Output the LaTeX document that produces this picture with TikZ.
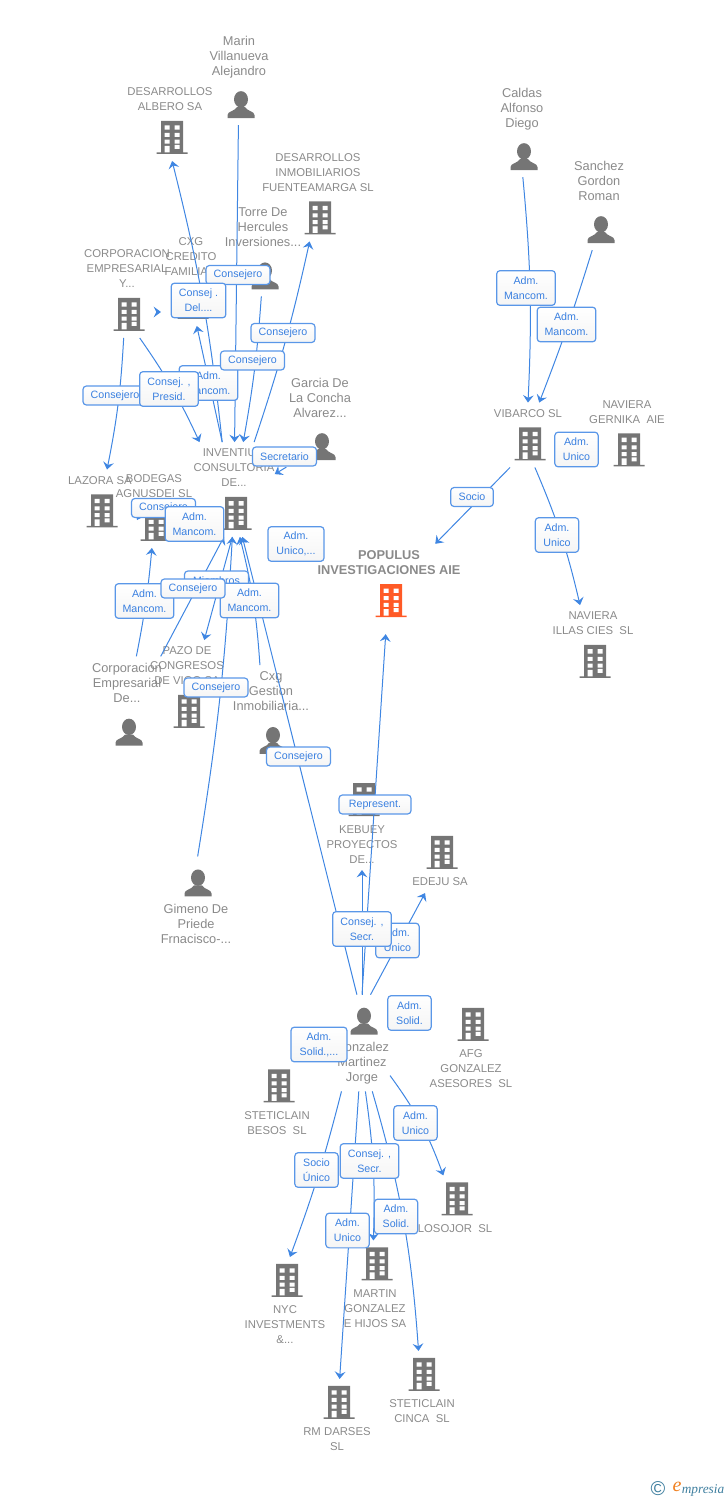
\documentclass[tikz,border=0pt]{standalone}
\usepackage{fontspec}
\setmainfont{Liberation Sans}
\newfontfamily\logofont{Liberation Serif}
\usetikzlibrary{arrows.meta}
\definecolor{iconGray}{HTML}{757575}
\definecolor{nameGray}{HTML}{8A8A8A}
\definecolor{linkBlue}{HTML}{3F86E2}
\definecolor{tagLine}{HTML}{5A97E8}
\definecolor{tagText}{HTML}{3A80E0}
\definecolor{mainRed}{HTML}{FF5A26}
\definecolor{logoBlue}{HTML}{3F7F9F}
\definecolor{logoOrange}{HTML}{F08020}
% icons sit on the baseline of their line
\newcommand{\firmicon}[1][iconGray]{\tikz[baseline=0pt,x=0.75pt,y=0.75pt]{
    \path[use as bounding box] (-19.5,0) rectangle (15.5,33);
    \fill[#1] (-15.5,0) rectangle (15.5,1.5) (-11,1) rectangle (11,33);
    \fill[white] (-7.5,24.3) rectangle (-2.5,28.7) (2.5,24.3) rectangle (7.5,28.7)
        (-7.5,17) rectangle (-2.5,21) (2.5,17) rectangle (7.5,21)
        (-7.5,10.3) rectangle (-2.5,14.3) (2.5,10.3) rectangle (7.5,14.3)
        (-7.5,1.5) rectangle (-2.5,8) (2.5,5) rectangle (7.5,9);
}}
\newcommand{\manicon}{\tikz[baseline=0pt,x=0.75pt,y=0.75pt]{
    \path[use as bounding box] (-19.5,0) rectangle (15.5,33);
    \fill[iconGray] (0,18.8) ellipse [x radius=7, y radius=8.2];
    \fill[iconGray] (-13.5,0) -- (-13.5,3) .. controls (-13.5,7) and (-6,7) .. (-4,11)
        -- (4,11) .. controls (6,7) and (13.5,7) .. (13.5,3) -- (13.5,0) -- cycle;
}}
\begin{document}
\begin{tikzpicture}[
    x=0.75pt, y=-0.75pt,
    entity/.style={align=center, inner sep=0pt, outer sep=5.25pt, text=nameGray,
        font=\fontsize{8.5pt}{11.25pt}\selectfont,
        execute at begin node={\lineskiplimit=-100pt\relax}},
    personentity/.style={entity, font=\fontsize{9.6pt}{11.25pt}\selectfont},
    mainentity/.style={entity, font=\fontsize{9.6pt}{10.8pt}\selectfont\bfseries},
    link/.style={draw=linkBlue, line width=0.75pt, -{Stealth[length=5.5pt,width=8pt,inset=2pt]}},
    tag/.style={draw=tagLine, line width=0.9pt, rounded corners=2.5pt, top color=white,
        bottom color=black!4, text=tagText, inner xsep=0pt, inner ysep=0pt, align=center,
        font=\fontsize{8pt}{11.25pt}\selectfont},
    tagone/.style={tag, minimum width=48pt, minimum height=14.2pt},
    tagtwo/.style={tag, minimum width=#1, minimum height=26pt},
    tagtwo/.default=44pt,
]
\useasboundingbox (0,0) rectangle (728,1500);

% people and firms, text above the icon
\node[personentity] (marin) at (239,77) {Marin\\Villanueva\\Alejandro\\[21pt]\manicon};
\node[entity] (albero) at (170,121) {DESARROLLOS\\ALBERO SA\\[21pt]\firmicon};
\node[entity] (fuente) at (318,194) {DESARROLLOS\\INMOBILIARIOS\\FUENTEAMARGA SL\\[21pt]\firmicon};
\node[personentity] (torre) at (263,248.5) {Torre De\\Hercules\\Inversiones...\\[21pt]\manicon};
\node[entity] (cxg) at (191,278.5) {CXG\\CREDITO\\FAMILIA...\\[21pt]\firmicon};
\node[entity] (corp) at (127,290.5) {CORPORACION\\EMPRESARIAL\\Y...\\[21pt]\firmicon};
\node[personentity] (caldas) at (522,129) {Caldas\\Alfonso\\Diego\\[21pt]\manicon};
\node[personentity] (sanchez) at (599,202) {Sanchez\\Gordon\\Roman\\[21pt]\manicon};
\node[personentity] (garcia) at (320,419) {Garcia De\\La Concha\\Alvarez...\\[21pt]\manicon};
\node[entity] (vibarco) at (528,435) {VIBARCO SL\\[21pt]\firmicon};
\node[entity] (gernika) at (627,433.5) {NAVIERA\\GERNIKA~~AIE\\[21pt]\firmicon};
\node[entity] (inventium) at (234,489.5) {INVENTIUM\\CONSULTORIA\\DE...\\[21pt]\firmicon};
\node[entity] (lazora) at (100,502) {LAZORA SA\\[21pt]\firmicon};
\node[entity] (bodegas) at (154,508) {BODEGAS\\AGNUSDEI SL\\[21pt]\firmicon};
\node[entity] (illas) at (593,645) {NAVIERA\\ILLAS CIES~~SL\\[21pt]\firmicon};
\node[mainentity] (populus) at (389,584) {POPULUS\\INVESTIGACIONES AIE\\[21.5pt]\firmicon[mainRed]};
\node[entity] (pazo) at (187,687.5) {PAZO DE\\CONGRESOS\\DE VIGO SA\\[21pt]\firmicon};
\node[personentity] (corpemp) at (127,704.5) {Corporacion\\Empresarial\\De...\\[21pt]\manicon};
\node[personentity] (cxggest) at (271,713) {Cxg\\Gestion\\Inmobiliaria...\\[21pt]\manicon};

% icon above the text
\node[entity] (kebuey) at (362,823) {\firmicon\\[1.5pt]KEBUEY\\PROYECTOS\\DE...};
\node[entity] (edeju) at (440,861) {\firmicon\\[1.5pt]EDEJU SA};
\node[personentity] (gimeno) at (196,903.5) {\manicon\\[1.5pt]Gimeno De\\Priede\\Frnacisco-...};
\node[personentity] (gonzalez) at (362,1043) {\manicon\\[1.5pt]Gonzalez\\Martinez\\Jorge};
\node[entity] (afg) at (471,1048) {\firmicon\\[1.5pt]AFG\\GONZALEZ\\ASESORES~~SL};
\node[entity] (besos) at (277,1102) {\firmicon\\[1.5pt]STETICLAIN\\BESOS~~SL};
\node[entity] (losojor) at (455,1207.5) {\firmicon\\[1.5pt]LOSOJOR~~SL};
\node[entity] (martin) at (375,1287.5) {\firmicon\\[1.5pt]MARTIN\\GONZALEZ\\E HIJOS SA};
\node[entity] (nyc) at (285,1304) {\firmicon\\[1.5pt]NYC\\INVESTMENTS\\\&...};
\node[entity] (darses) at (337,1418.5) {\firmicon\\[1.5pt]RM DARSES\\SL};
\node[entity] (cinca) at (422,1390.5) {\firmicon\\[1.5pt]STETICLAIN\\CINCA~~SL};

% two arrow heads whose lines stay hidden
\coordinate (corptail) at (157,312);
\coordinate (corphead) at (161,312);
\coordinate (bodegastail) at (141,512);
\coordinate (bodegashead) at (137,520);
\draw[link] (corptail) -- (corphead);
\draw[link] (bodegastail) -- (bodegashead);

\draw[link] (marin) -- (inventium);
\draw[link] (inventium.104) to[bend right=4] (albero.-87);
\draw[link] (inventium.104) -- (cxg.-83);
\draw[link] (inventium.67) to[bend right=3] (fuente.-100);
\draw[link] (torre.-92) to[bend left=3] (inventium.79);
\draw[link] (corp.-75) to[bend left=5] (inventium.126);
\draw[link] (corp.-94) to[bend left=4] (lazora);
\draw[link] (garcia.-125) -- ([xshift=-5pt]inventium.18);
\draw[link] (corpemp.79) to[bend right=3] (bodegas.-93);
\draw[link] (corpemp.55) -- (inventium.-102);
\draw[link] (inventium.-92) -- (pazo.70);
\draw[link] (gimeno.88) to[bend right=3] (inventium.-92);
\draw[link] (cxggest.103) to[bend right=5] (inventium.-83);
\draw[link] (gonzalez.96) -- (inventium.-80);
\draw[link, shorten >=7.5pt] (gonzalez.90) -- (populus);
\draw[link] (gonzalez.90) -- (kebuey);
\draw[link] (gonzalez.80) -- (edeju.-115);
\draw[link] (gonzalez.-113) to[bend left=3] (nyc.84);
\draw[link] (gonzalez) -- (darses);
\draw[link] (gonzalez.-86) to[bend left=5] (martin.92);
\draw[link] (gonzalez.-78) to[bend left=6] (cinca.95);
\draw[link] ([shift={(-6,-8)}]gonzalez.-50) to[bend left=8] (losojor.110);
\draw[link] (caldas.-89) to[bend left=4] (vibarco.90);
\draw[link] (sanchez.-98) to[bend left=2] (vibarco.71);
\draw[link] (vibarco.-119) -- (populus.41);
\draw[link] (vibarco.-78) to[bend left=5] (illas.108);

\node[tagone] (t1) at (238,275) {Consejero};
\node[tagtwo=41pt] (t2) at (198.5,300.5) {Consej .\\Del....};
\node[tagone] (t3) at (283,333) {Consejero};
\node[tagtwo] (t4) at (208.5,383) {Adm.\\Mancom.};
\node[tagone] (t5) at (252.5,360.5) {Consejero};
\node[tagone] (t6) at (115,395.5) {Consejero};
\node[tagtwo] (t7) at (169,389) {Consej. ,\\Presid.};
\node[tagone] (t8) at (284.5,456.5) {Secretario};
\node[tagone] (t9) at (163.5,508) {Consejero};
\node[tagtwo] (t10) at (194.5,524) {Adm.\\Mancom.};
\node[tagtwo=42pt] (t11) at (296,544) {Adm.\\Unico,...};
\node[tagone] (t12) at (216.5,580.5) {Miembros};
\node[tagtwo] (t13) at (144.5,601) {Adm.\\Mancom.};
\node[tagtwo] (t14) at (249.5,600.5) {Adm.\\Mancom.};
\node[tagone] (t15) at (193,588.5) {Consejero};
\node[tagone] (t16) at (216,687.5) {Consejero};
\node[tagone] (t17) at (298.5,756.5) {Consejero};
\node[tagone, minimum width=54pt] (t18) at (375,804.5) {Represent.};
\node[tagtwo=32.5pt] (t19) at (397.5,940.5) {Adm.\\Unico};
\node[tagtwo] (t20) at (362,929) {Consej. ,\\Secr.};
\node[tagtwo=32.5pt] (t21) at (409.5,1013) {Adm.\\Solid.};
\node[tagtwo=42pt] (t22) at (319,1044.5) {Adm.\\Solid.,...};
\node[tagtwo=32.5pt] (t23) at (415.5,1123) {Adm.\\Unico};
\node[tagtwo=32.5pt] (t24) at (316.5,1170) {Socio\\Único};
\node[tagtwo] (t25) at (369.5,1161) {Consej. ,\\Secr.};
\node[tagtwo=32.5pt] (t26) at (396,1216.5) {Adm.\\Solid.};
\node[tagtwo=32.5pt] (t27) at (347.5,1230.5) {Adm.\\Unico};
\node[tagtwo] (t28) at (526,288) {Adm.\\Mancom.};
\node[tagtwo] (t29) at (566.5,324.5) {Adm.\\Mancom.};
\node[tagtwo=32.5pt] (t30) at (576.5,449.5) {Adm.\\Unico};
\node[tagone, minimum width=32pt] (t31) at (472,497) {Socio};
\node[tagtwo=32.5pt] (t32) at (557,535) {Adm.\\Unico};

\node[text=logoBlue, font=\fontsize{15pt}{15pt}\selectfont, inner sep=0pt] (copyright) at (658,1489) {©};
\node[text=logoBlue, font=\logofont\itshape\fontsize{10pt}{10pt}\selectfont, inner sep=0pt] (brand) at (703,1490) {mpresia};
\node[text=logoOrange, font=\logofont\itshape\fontsize{15pt}{15pt}\selectfont, inner sep=0pt] (brande) at (677,1487) {e};
\end{tikzpicture}
\end{document}
